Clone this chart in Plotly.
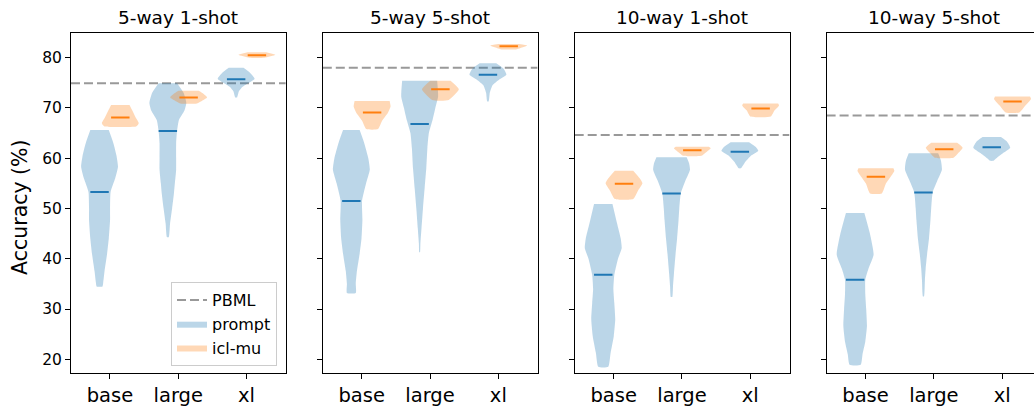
import plotly.graph_objects as go

# ---------------- data ----------------
panels = ["5-way 1-shot", "5-way 5-shot", "10-way 1-shot", "10-way 5-shot"]
models = ["base", "large", "xl"]
y_ticks = [20, 30, 40, 50, 60, 70, 80]

pbml = [74.9, 78.0, 64.6, 68.5]

prompt_means = [
    [53.3, 65.4, 75.7],
    [51.5, 66.8, 76.6],
    [36.8, 53.0, 61.3],
    [35.8, 53.2, 62.2],
]
icl_means = [
    [68.1, 72.1, 80.5],
    [69.1, 73.7, 82.25],
    [54.9, 61.6, 69.9],
    [56.3, 61.8, 71.3],
]

# density profiles: (accuracy, relative density 0..1), top to bottom
prompt_profiles = [
    [  # 5-way 1-shot
        [(65.6, 0.5), (63, 0.75), (60.5, 0.92), (58.3, 1.0), (56, 0.85), (53.3, 0.6), (50, 0.57),
         (47.7, 0.57), (44, 0.5), (41, 0.41), (37.5, 0.27), (35.3, 0.2), (34.5, 0.16)],
        [(74.9, 0.5), (73, 0.85), (71, 1.0), (69.5, 0.9), (67.6, 0.6), (65.4, 0.5), (63, 0.45),
         (60, 0.45), (57.7, 0.45), (55, 0.38), (53, 0.33), (50, 0.23), (47, 0.12), (44.3, 0.05)],
        [(78.0, 0.4), (77, 0.75), (75.8, 1.0), (75.0, 0.7), (74.2, 0.35), (73.3, 0.15), (72.1, 0.05)],
    ],
    [  # 5-way 5-shot
        [(65.6, 0.45), (63, 0.7), (60, 0.92), (57.7, 1.0), (55, 0.8), (51.5, 0.58), (47.7, 0.6),
         (44, 0.55), (41, 0.45), (37.5, 0.3), (35, 0.24), (33.2, 0.24)],
        [(75.4, 0.95), (72.3, 1.0), (70, 0.85), (67.6, 0.7), (65, 0.5), (62, 0.42), (58, 0.36),
         (54, 0.27), (50, 0.18), (46, 0.1), (43, 0.04), (41.3, 0.02)],
        [(78.9, 0.45), (77.8, 0.85), (76.6, 1.0), (75.6, 0.6), (74.5, 0.25), (73, 0.1), (71.3, 0.04)],
    ],
    [  # 10-way 1-shot
        [(50.9, 0.5), (47, 0.75), (44, 0.95), (42.1, 1.0), (40, 0.8), (36.8, 0.6), (34, 0.55),
         (31.2, 0.6), (27.9, 0.65), (24.6, 0.57), (21.3, 0.4), (18.5, 0.27)],
        [(60.2, 0.82), (59, 0.95), (57.7, 1.0), (55.5, 0.75), (53, 0.5), (50, 0.42), (47.7, 0.38),
         (44, 0.3), (41, 0.22), (37, 0.13), (34.5, 0.08), (32.4, 0.04)],
        [(63.2, 0.5), (62.3, 0.85), (61.5, 1.0), (60.5, 0.6), (59.3, 0.3), (58.0, 0.06)],
    ],
    [  # 10-way 5-shot
        [(49.1, 0.5), (45, 0.8), (40.8, 1.0), (38, 0.72), (35.8, 0.55), (33, 0.55), (30, 0.6),
         (26.6, 0.64), (23.5, 0.55), (21, 0.4), (18.9, 0.3)],
        [(61.0, 0.8), (59.5, 0.95), (57.7, 1.0), (55.5, 0.75), (53.2, 0.5), (50, 0.42), (47.7, 0.38),
         (44, 0.3), (41, 0.2), (38, 0.12), (35.8, 0.08), (32.5, 0.03)],
        [(64.2, 0.5), (63.2, 0.85), (62.1, 1.0), (61, 0.6), (60, 0.25), (59.5, 0.1)],
    ],
]

icl_profiles = [
    [
        [(70.6, 0.5), (69.5, 0.65), (68, 0.85), (67, 1.0), (66.6, 0.95), (66.3, 0.85)],
        [(73.4, 0.55), (72.8, 0.8), (72.1, 1.0), (71.5, 0.75), (70.9, 0.45)],
        [(81.1, 0.5), (80.6, 1.0), (80.0, 0.4)],
    ],
    [
        [(71.4, 0.95), (70.3, 1.0), (69, 0.85), (67.5, 0.55), (65.8, 0.32)],
        [(75.4, 0.55), (73.7, 1.0), (71.6, 0.45)],
        [(82.7, 0.55), (82.4, 1.0), (81.7, 0.45)],
    ],
    [
        [(57.5, 0.5), (56, 0.85), (55, 1.0), (53.5, 0.75), (51.9, 0.5)],
        [(62.3, 0.9), (62.0, 1.0), (61.2, 0.75), (60.5, 0.5)],
        [(70.9, 0.95), (70.5, 1.0), (69.5, 0.75), (68.3, 0.55)],
    ],
    [
        [(58.0, 0.95), (57.5, 1.0), (56.3, 0.8), (55, 0.55), (53, 0.32)],
        [(63.1, 0.7), (62.1, 1.0), (61, 0.75), (60.1, 0.5)],
        [(72.3, 0.95), (71.8, 1.0), (70.5, 0.7), (69.1, 0.37)],
    ],
]

# ---------------- styling / geometry ----------------
W, H = 1034, 406
FONT = "DejaVu Sans"
C0, C1 = "#1f77b4", "#ff7f0e"
C0F, C1F = "rgba(31,119,180,0.3)", "rgba(255,127,14,0.3)"
HALF_W = 0.27        # max half-width of violin in x units
MEAN_HALF = 0.135    # half-length of mean line
OFFSET = 0.152       # offset of each group from category centre
X_RANGE = (0.43, 3.575)
Y_RANGE = (17.27, 84.97)
PX_PER_UNIT = 68.3
panel_left_px = [71.0, 322.8, 574.7, 826.6]
panel_w_px = 214.8
top_px, bot_px = 32.7, 373.0

fig = go.Figure()


def violin_trace(profile, pos, fill, axis_idx, name, show):
    ys = [p[0] for p in profile]
    ws = [p[1] * HALF_W for p in profile]
    xs = [pos + w for w in ws] + [pos - w for w in reversed(ws)]
    yy = ys + list(reversed(ys))
    sfx = "" if axis_idx == 1 else str(axis_idx)
    return go.Scatter(x=xs, y=yy, fill="toself", fillcolor=fill, mode="lines",
                      line=dict(width=0, color=fill, shape="spline", smoothing=0.5),
                      name=name, legendgroup=name, showlegend=show, hoverinfo="skip",
                      xaxis="x" + sfx, yaxis="y" + sfx)


for k in range(4):
    sfx = "" if k == 0 else str(k + 1)
    x_end = X_RANGE[1] if k < 3 else X_RANGE[0] + (W - panel_left_px[k]) / PX_PER_UNIT
    # PBML line
    fig.add_trace(go.Scatter(x=[X_RANGE[0], X_RANGE[1]], y=[pbml[k], pbml[k]], mode="lines",
                             line=dict(color="rgba(128,128,128,0.8)", width=2, dash="9px,4px"),
                             name="PBML", legendgroup="PBML", showlegend=(k == 0),
                             xaxis="x" + sfx, yaxis="y" + sfx, cliponaxis=True))
    for j in range(3):
        pos_p = (j + 1) - OFFSET
        pos_i = (j + 1) + OFFSET
        fig.add_trace(violin_trace(prompt_profiles[k][j], pos_p, C0F, k + 1, "prompt", k == 0 and j == 0))
        fig.add_trace(violin_trace(icl_profiles[k][j], pos_i, C1F, k + 1, "icl-mu", k == 0 and j == 0))
        fig.add_trace(go.Scatter(x=[pos_p - MEAN_HALF, pos_p + MEAN_HALF],
                                 y=[prompt_means[k][j]] * 2, mode="lines",
                                 line=dict(color=C0, width=2), showlegend=False, hoverinfo="skip",
                                 xaxis="x" + sfx, yaxis="y" + sfx))
        fig.add_trace(go.Scatter(x=[pos_i - MEAN_HALF, pos_i + MEAN_HALF],
                                 y=[icl_means[k][j]] * 2, mode="lines",
                                 line=dict(color=C1, width=2), showlegend=False, hoverinfo="skip",
                                 xaxis="x" + sfx, yaxis="y" + sfx))

    left = panel_left_px[k] / W
    right = min((panel_left_px[k] + panel_w_px) / W, 1.0)
    axis_common = dict(showgrid=False, zeroline=False, showline=True, linecolor="black",
                       linewidth=1, ticks="outside", ticklen=5, tickwidth=1, tickcolor="black",
                       automargin=False)
    fig.layout["xaxis" + sfx] = dict(
        domain=[left, right], range=[X_RANGE[0], x_end], anchor="y" + sfx,
        tickvals=[1, 2, 3], ticktext=models, mirror=True,
        tickfont=dict(family=FONT, size=19.5, color="black"), **axis_common)
    fig.layout["yaxis" + sfx] = dict(
        domain=[(H - bot_px) / H, (H - top_px) / H], range=list(Y_RANGE), anchor="x" + sfx,
        tickvals=y_ticks, showticklabels=(k == 0), mirror=(k < 3),
        tickfont=dict(family=FONT, size=15.5, color="black"), **axis_common)
    fig.add_annotation(text=panels[k], xref="paper", yref="paper",
                       x=(panel_left_px[k] + panel_w_px / 2) / W, y=(H - 17.5) / H,
                       xanchor="center", yanchor="middle", showarrow=False,
                       font=dict(family=FONT, size=18.5, color="black"))

fig.add_annotation(text="Accuracy (%)", xref="paper", yref="paper", x=20 / W, y=(H - 207) / H,
                   xanchor="center", yanchor="middle", textangle=-90, showarrow=False,
                   font=dict(family=FONT, size=20.5, color="black"))

fig.update_layout(
    width=W, height=H, margin=dict(l=0, r=0, t=0, b=0),
    plot_bgcolor="white", paper_bgcolor="white",
    font=dict(family=FONT, color="black"),
    legend=dict(x=277 / W, y=(H - 366) / H, xanchor="right", yanchor="bottom",
                bgcolor="white", bordercolor="#cccccc", borderwidth=1,
                font=dict(family=FONT, size=16, color="black"), tracegroupgap=0,
                itemwidth=30),
)

fig.write_html("out.html", config={"displayModeBar": False},
               post_script="document.body.style.margin='0';document.body.style.overflow='hidden';")
